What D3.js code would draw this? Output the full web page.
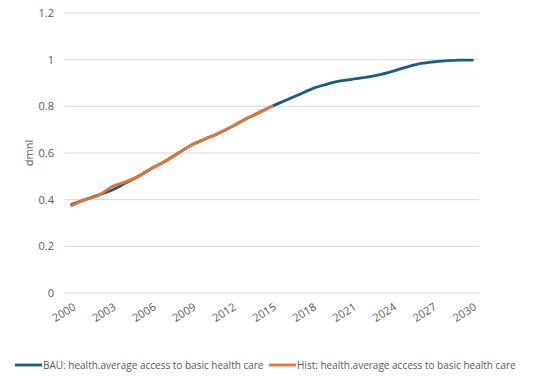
<!DOCTYPE html>
<html>
<head>
<meta charset="utf-8">
<script src="https://d3js.org/d3.v7.min.js"></script>
<style>
  body { margin: 0; background: #fff; }
  text { font-family: "Open Sans", "Liberation Sans", sans-serif; }
</style>
</head>
<body>
<div id="chart"></div>
<script>
// 数据
const years = d3.range(2000, 2031).map(String);
const yTicks = [0, 0.2, 0.4, 0.6, 0.8, 1, 1.2];
const xTickLabels = ["2000", "2003", "2006", "2009", "2012", "2015", "2018", "2021", "2024", "2027", "2030"];
const bauValues = [0.38, 0.40, 0.42, 0.44, 0.47, 0.50, 0.535, 0.565, 0.60, 0.635, 0.66, 0.685, 0.713, 0.745, 0.772, 0.80,
  0.825, 0.85, 0.875, 0.893, 0.908, 0.916, 0.924, 0.935, 0.95, 0.967, 0.982, 0.99, 0.995, 0.998, 0.998];
const histValues = [0.375, 0.40, 0.418, 0.455, 0.475, 0.50, 0.535, 0.565, 0.60, 0.635, 0.66, 0.685, 0.713, 0.745, 0.772, 0.80];
const seriesNames = ["BAU: health.average access to basic health care", "Hist: health.average access to basic health care"];
const colors = ["#156082", "#E97132"];

const width = 541, height = 376;
const MARGIN = { top: 13, right: 62, bottom: 83, left: 65 };
const innerW = width - MARGIN.left - MARGIN.right;
const innerH = height - MARGIN.top - MARGIN.bottom;

const svg = d3.select('#chart').append('svg')
  .attr('width', width).attr('height', height);

const g = svg.append('g').attr('transform', `translate(${MARGIN.left},${MARGIN.top})`);

const xScale = d3.scaleBand().domain(years).range([0, innerW]);
const xPos = d => xScale(d) + xScale.bandwidth() / 2;
const yScale = d3.scaleLinear().domain([0, 1.2]).range([innerH, 0]);

// 网格线
g.selectAll('.grid').data(yTicks).join('line')
  .attr('x1', 0).attr('x2', innerW)
  .attr('y1', d => yScale(d)).attr('y2', d => yScale(d))
  .attr('stroke', '#d9d9d9').attr('stroke-width', 1);

// Y轴标签
g.selectAll('.ylab').data(yTicks).join('text')
  .attr('x', -11).attr('y', d => yScale(d)).attr('dy', '0.35em')
  .attr('text-anchor', 'end').attr('font-size', 11).attr('fill', '#595959')
  .text(d => d);

// Y轴标题
g.append('text')
  .attr('transform', `translate(-32,${innerH / 2}) rotate(-90)`)
  .attr('text-anchor', 'middle').attr('font-size', 11).attr('fill', '#595959')
  .text('dmnl');

// X轴标签
g.selectAll('.xlab').data(xTickLabels).join('text')
  .attr('transform', d => `translate(${xPos(d) + 5},${innerH + 16}) rotate(-32)`)
  .attr('text-anchor', 'end').attr('font-size', 11).attr('fill', '#595959')
  .text(d => d);

// 折线
const line = d3.line()
  .x((d, i) => xPos(years[i]))
  .y(d => yScale(d))
  .curve(d3.curveMonotoneX);

[bauValues, histValues].forEach((vals, i) => {
  g.append('path')
    .attr('d', line(vals))
    .attr('fill', 'none')
    .attr('stroke', colors[i])
    .attr('stroke-width', 2.8)
    .attr('stroke-linejoin', 'round')
    .attr('stroke-linecap', 'round');
});

// 图例
const legendX = [15, 269];
seriesNames.forEach((name, i) => {
  const lg = svg.append('g').attr('transform', `translate(${legendX[i]},365)`);
  lg.append('line').attr('x1', 0).attr('x2', 27).attr('y1', 0).attr('y2', 0)
    .attr('stroke', colors[i]).attr('stroke-width', 2.8);
  lg.append('text').attr('x', 28).attr('y', 0).attr('dy', '0.35em')
    .attr('font-size', 10).attr('fill', '#595959').text(name);
});
</script>
</body>
</html>
